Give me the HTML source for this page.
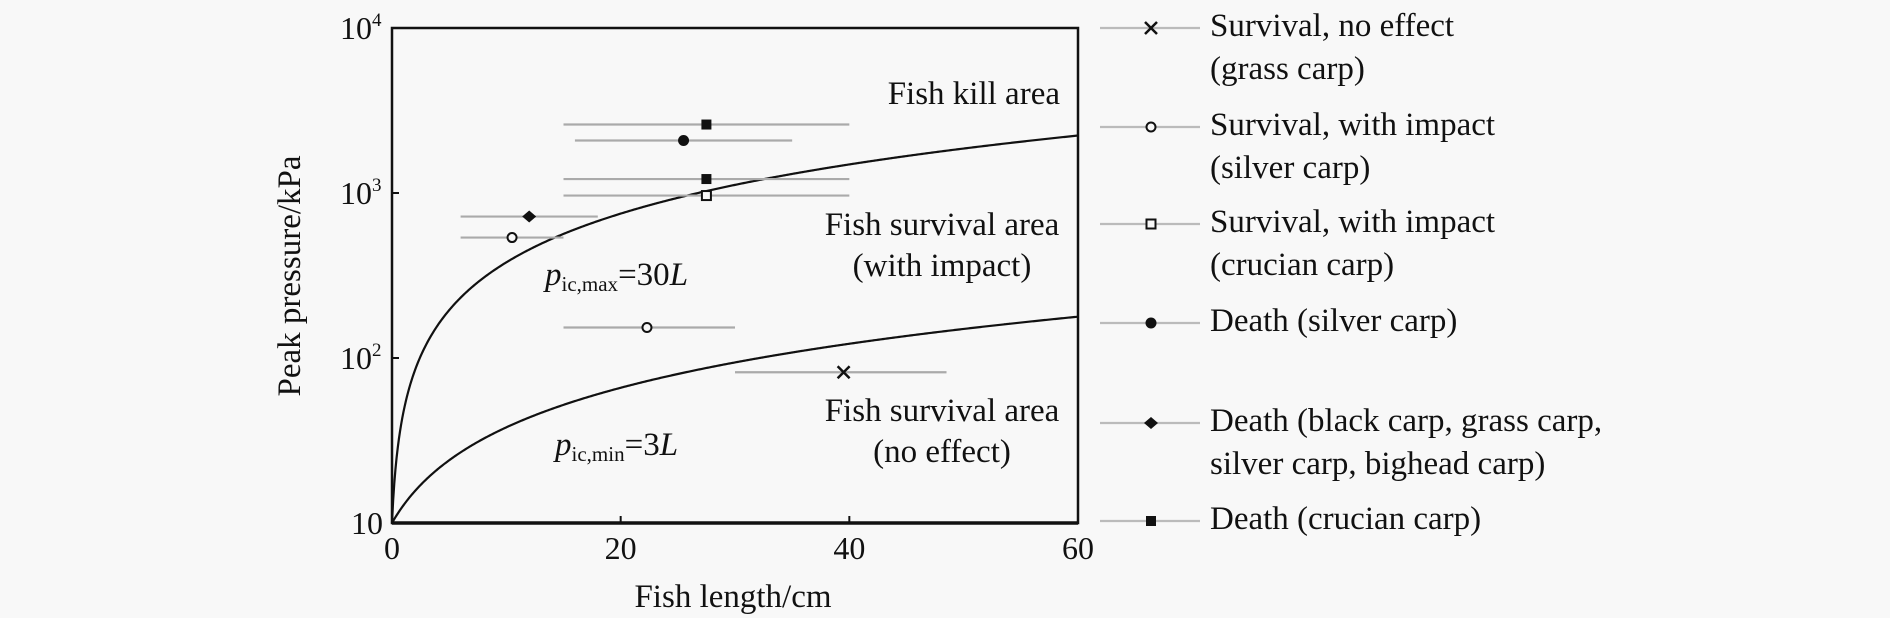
<!DOCTYPE html>
<html><head><meta charset="utf-8"><style>
html,body{margin:0;padding:0;background:#f8f8f8;}
svg{display:block;font-family:"Liberation Serif",serif;}
</style></head><body>
<svg id="chart" width="1890" height="618" viewBox="0 0 1890 618">
<rect x="0" y="0" width="1890" height="618" fill="#f8f8f8"/>
<g id="plot"></g>
<text x="300" y="276" transform="rotate(-90 300 276)" text-anchor="middle" font-size="33" fill="#111">Peak pressure/kPa</text>
<text x="733" y="607" text-anchor="middle" font-size="33" fill="#111">Fish length/cm</text>
<text x="1060" y="104" text-anchor="end" font-size="33" fill="#111">Fish kill area</text>
<text x="942" y="235" text-anchor="middle" font-size="33" fill="#111">Fish survival area</text>
<text x="942" y="276" text-anchor="middle" font-size="33" fill="#111">(with impact)</text>
<text x="942" y="421" text-anchor="middle" font-size="33" fill="#111">Fish survival area</text>
<text x="942" y="462" text-anchor="middle" font-size="33" fill="#111">(no effect)</text>
<text x="545" y="285" font-size="33" fill="#111"><tspan font-style="italic">p</tspan><tspan font-size="21" dy="6">ic,max</tspan><tspan dy="-6">=30</tspan><tspan font-style="italic">L</tspan></text>
<text x="555" y="455" font-size="33" fill="#111"><tspan font-style="italic">p</tspan><tspan font-size="21" dy="6">ic,min</tspan><tspan dy="-6">=3</tspan><tspan font-style="italic">L</tspan></text>
</svg>
<script>
const xTicks=[0,20,40,60];
const yTickExp=[1,2,3,4];
const ptX=[27.5,25.5,27.5,27.5,12,10.5,22.3,39.5];
const ptY=[2600,2080,1215,965,720,537,153,82];
const errLo=[15,16,15,15,6,6,15,30];
const errHi=[40,35,40,40,18,15,30,48.5];
const ptType=['fsquare','fcircle','fsquare','osquare','diamond','ocircle','ocircle','cross'];
const curveK=[37,2.8];
const legendLabels=[["Survival, no effect","(grass carp)"],["Survival, with impact","(silver carp)"],["Survival, with impact","(crucian carp)"],["Death (silver carp)"],["Death (black carp, grass carp,","silver carp, bighead carp)"],["Death (crucian carp)"]];
const legendTypes=['cross','ocircle','osquare','fcircle','diamond','fsquare'];

const X0=392,X1=1078,Y0=523,Y1=28;
const sx=v=>X0+(v-0)/60*(X1-X0);
const sy=v=>Y0-(Math.log10(v)-1)/3*(Y0-Y1);
const NS='http://www.w3.org/2000/svg';
const g=document.getElementById('plot');
function mk(t,a,p){const e=document.createElementNS(NS,t);for(const k in a)e.setAttribute(k,a[k]);(p||g).appendChild(e);return e;}

function marker(type,x,y,parent){
  let e;
  if(type==='fsquare')e=mk('rect',{x:x-5,y:y-5,width:10,height:10,fill:'#111'},parent);
  else if(type==='osquare')e=mk('rect',{x:x-4.5,y:y-4.5,width:9,height:9,fill:'#f8f8f8',stroke:'#111','stroke-width':2},parent);
  else if(type==='fcircle')e=mk('circle',{cx:x,cy:y,r:5.5,fill:'#111'},parent);
  else if(type==='ocircle')e=mk('circle',{cx:x,cy:y,r:4.5,fill:'#f8f8f8',stroke:'#111','stroke-width':2},parent);
  else if(type==='diamond')e=mk('path',{d:`M${x-7} ${y}L${x} ${y-6}L${x+7} ${y}L${x} ${y+6}Z`,fill:'#111'},parent);
  else e=mk('path',{d:`M${x-6} ${y-6}L${x+6} ${y+6}M${x-6} ${y+6}L${x+6} ${y-6}`,stroke:'#111','stroke-width':2.5,fill:'none'},parent);
  return e;
}

curveK.forEach((k,i)=>{
  let d='';
  for(let j=0;j<=600;j++){const L=j/10;const v=10+k*L;d+=(j?'L':'M')+sx(L).toFixed(2)+' '+sy(v).toFixed(2);}
  const p=mk('path',{d:d,fill:'none',stroke:'#111','stroke-width':2.2});
  
  
});

ptX.forEach((x,i)=>{
  const l=mk('line',{x1:sx(errLo[i]),x2:sx(errHi[i]),y1:sy(ptY[i]),y2:sy(ptY[i]),stroke:'#aaa','stroke-width':2.2});
  
  
});
ptX.forEach((x,i)=>{
  const m=marker(ptType[i],sx(x),sy(ptY[i]));
  
  
});

const fr=mk('rect',{x:X0,y:Y1,width:X1-X0,height:Y0-Y1,fill:'none',stroke:'#111','stroke-width':2.5});


const bx=mk('line',{x1:X0,x2:X1,y1:Y0,y2:Y0,stroke:'#111','stroke-width':3.5});



xTicks.forEach(t=>{
  if(t>0&&t<60){const tk=mk('line',{x1:sx(t),x2:sx(t),y1:Y0,y2:Y0-7,stroke:'#111','stroke-width':2});
  
  }
  const tx=mk('text',{x:sx(t),y:559,'text-anchor':'middle','font-size':32,fill:'#111'});
  tx.textContent=t;
  
  
});
yTickExp.forEach(e=>{
  const y=sy(Math.pow(10,e));
  if(e>1&&e<4){const tk=mk('line',{x1:X0,x2:X0+7,y1:y,y2:y,stroke:'#111','stroke-width':2});
  
  }
  const tx=mk('text',{x:e===1?383:340,y:y+11,'text-anchor':e===1?'end':'start','font-size':32,fill:'#111'});
  tx.textContent='10';
  if(e>1){const s=mk('tspan',{dy:-13,'font-size':19},tx);s.textContent=e;}
  
  
});

const legY=[[28,71],[127,170],[224,267],[323],[423,466],[521]];
legendLabels.forEach((lab,i)=>{
  const gg=mk('g',{});
  
  
  const y=legY[i][0];
  mk('line',{x1:1100,x2:1200,y1:y,y2:y,stroke:'#bbb','stroke-width':2.2},gg);
  marker(legendTypes[i],1151,y,gg);
  lab.forEach((s,j)=>{const t=mk('text',{x:1210,y:legY[i][j]+8,'font-size':33,fill:'#111'},gg);t.textContent=s;});
});
</script>
</body></html>
